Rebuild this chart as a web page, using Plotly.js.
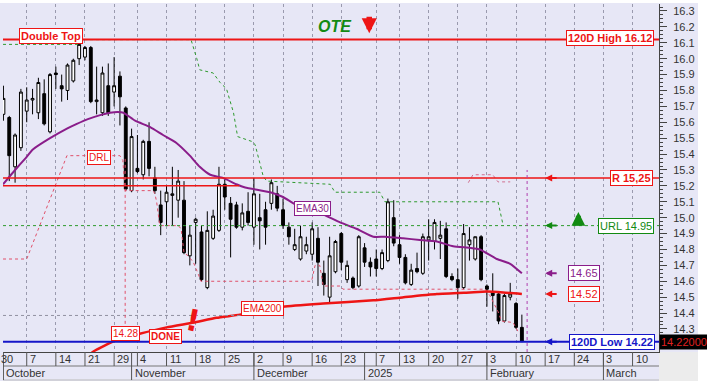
<!DOCTYPE html>
<html><head><meta charset="utf-8">
<script src="https://cdn.plot.ly/plotly-3.0.1.min.js"></script>
<style>html,body{margin:0;padding:0;background:#fff;}#chart{width:707px;height:390px;}</style>
</head><body><div id="chart"></div>
<script>
// ---------- DATA ----------
const firstDay = '2024-09-30';
const lastDay = '2025-03-14';
const holidays = ['2024-10-28','2024-12-25','2024-12-26','2024-12-31','2025-01-01','2025-01-06'];

// candles: trading days from 2024-10-01 to 2025-02-11
const candleFirst = '2024-10-01';
const open  = [15.65,15.63,15.32,15.44,15.67,15.74,15.66,15.78,15.54,15.91,15.83,15.80,15.86,16.00,16.01,16.07,15.73,15.66,15.83,15.79,15.89,15.69,15.17,15.31,15.27,15.48,15.25,15.08,15.10,15.14,15.11,15.11,14.76,14.97,14.91,14.56,14.87,14.92,15.21,15.09,15.08,14.94,15.04,14.94,15.00,15.05,15.09,15.15,15.05,14.94,14.80,14.74,14.79,14.77,14.87,14.65,14.50,14.66,14.90,14.61,14.62,14.57,14.81,14.72,14.74,14.68,14.73,15.00,14.83,14.75,14.58,14.68,14.65,14.86,14.85,14.87,14.93,14.63,14.61,14.56,14.83,14.74,14.88,14.57,14.53,14.52,14.35,14.50,14.46,14.31];
const high  = [15.83,15.64,15.53,15.81,15.82,15.81,15.88,15.87,15.91,15.95,15.90,15.97,16.00,16.12,16.08,16.08,15.95,15.95,15.97,16.01,15.92,15.70,15.56,15.52,15.49,15.60,15.32,15.17,15.20,15.32,15.30,15.23,14.95,15.00,14.95,15.04,15.05,15.32,15.24,15.13,15.10,15.09,15.16,15.25,15.15,15.10,15.24,15.20,15.12,14.97,14.93,14.95,14.88,14.97,14.94,14.73,14.88,14.86,14.91,14.73,14.63,14.89,14.84,14.75,14.80,14.80,15.12,15.11,14.89,14.77,14.71,14.78,14.90,14.99,14.99,14.98,14.97,14.65,14.68,14.96,14.94,14.88,14.89,14.58,14.65,14.53,14.52,14.59,14.47,14.39];
const low   = [15.61,15.23,15.22,15.42,15.60,15.65,15.62,15.58,15.53,15.81,15.73,15.74,15.85,15.96,15.99,15.72,15.65,15.64,15.64,15.70,15.58,15.17,15.16,15.28,15.24,15.26,15.15,14.89,14.95,14.95,15.00,14.77,14.70,14.71,14.60,14.55,14.86,14.91,15.05,14.75,14.93,14.92,14.95,14.83,14.80,14.83,15.05,15.04,14.93,14.83,14.79,14.73,14.77,14.73,14.57,14.51,14.46,14.65,14.67,14.59,14.55,14.56,14.69,14.63,14.63,14.67,14.72,14.82,14.71,14.58,14.57,14.65,14.64,14.73,14.80,14.74,14.62,14.60,14.49,14.55,14.73,14.73,14.60,14.44,14.41,14.33,14.34,14.48,14.30,14.22];
const close = [15.75,15.39,15.52,15.79,15.74,15.75,15.85,15.59,15.90,15.90,15.81,15.96,15.99,16.09,16.07,15.73,15.74,15.91,15.66,15.83,15.76,15.18,15.51,15.29,15.48,15.31,15.17,14.97,15.16,15.15,15.23,14.78,14.89,14.99,14.61,14.92,15.01,15.21,15.13,14.99,14.94,15.03,14.97,15.15,14.98,14.94,15.22,15.06,14.95,14.88,14.83,14.88,14.83,14.93,14.72,14.58,14.76,14.85,14.72,14.70,14.56,14.88,14.72,14.69,14.68,14.78,15.10,14.84,14.75,14.59,14.67,14.66,14.88,14.88,14.97,14.89,14.63,14.61,14.56,14.90,14.86,14.88,14.61,14.55,14.51,14.35,14.51,14.52,14.31,14.22];

// axis labels
const weekTicks = ['2024-09-30','2024-10-07','2024-10-14','2024-10-21','2024-10-29','2024-11-04','2024-11-11','2024-11-18','2024-11-25','2024-12-02','2024-12-09','2024-12-16','2024-12-23','2025-01-07','2025-01-13','2025-01-20','2025-01-27','2025-02-03','2025-02-10','2025-02-17','2025-02-24','2025-03-03','2025-03-10'];
const monthStarts = ['2024-10-01','2024-11-01','2024-12-02','2025-01-02','2025-02-03','2025-03-03'];
const monthNames = ['October','November','December','2025','February','March'];
const priceTicks = [14.3,14.4,14.5,14.6,14.7,14.8,14.9,15.0,15.1,15.2,15.3,15.4,15.5,15.6,15.7,15.8,15.9,16.0,16.1,16.2,16.3];

// EMA30 (trading-day position, price)
const ema30X = [0.93,3.0,4.7,6.1,9.0,11.9,13.6,15.5,17.6,19.3,20.6,21.6,23.6,26.2,28.4,30.7,33.0,34.7,36.5,38.7,41.0,42.5,46.8,49.0,51.3,55.3,58.8,61.6,64.5,66.5,69.6,72.5,75.4,78.2,81.1,82.8,85.7,88.0,90.0];
const ema30Y = [15.21,15.30,15.37,15.43,15.50,15.56,15.59,15.62,15.645,15.66,15.665,15.66,15.61,15.57,15.52,15.47,15.39,15.32,15.27,15.25,15.21,15.19,15.16,15.13,15.08,15.03,14.97,14.93,14.88,14.88,14.87,14.86,14.85,14.82,14.81,14.80,14.74,14.71,14.65];
// EMA200
const ema200X = [13.5,16.4,20.4,24.4,29.0,33.6,37.6,41.6,49.0,55.9,64.5,69.7,75.4,81.1,84.0,86.8,90.0];
const ema200Y = [14.05,14.157,14.23,14.27,14.31,14.34,14.37,14.39,14.44,14.46,14.48,14.50,14.52,14.53,14.535,14.53,14.52];
// upper stepped level (green dotted)
const urlStepX = [0.93,13.8,14.2,33.2,34.2,34.7,37.0,38.2,39.3,40.5,41.2,43.6,44.2,45.6,46.2,57.1,57.9,65.6,66.5,85.9,86.8];
const urlStepY = [16.09,16.09,16.12,16.12,16.00,15.93,15.91,15.85,15.81,15.66,15.51,15.48,15.46,15.26,15.23,15.21,15.16,15.16,15.10,15.10,14.95];
// lower stepped level (DRL, red dotted)
const drlStepX = [0.93,5.0,11.9,21.0,21.5,21.9,22.2,26.7,27.0,27.3,27.8,27.9,31.0,31.5,31.8,32.0,32.7,33.6,34.5,34.9,53.9,54.5,55.3,55.9,58.8,59.3,83.7,84.5,85.9,86.5,88.5,89.4];
const drlStepY = [14.74,14.74,15.39,15.39,15.36,15.17,15.17,15.17,15.15,15.10,14.96,14.95,14.95,14.93,14.84,14.78,14.76,14.72,14.64,14.60,14.60,14.70,14.70,14.57,14.57,14.55,14.55,14.51,14.41,14.35,14.34,14.28];
// short dotted projection near the resistance
const projX = [80.8,81.6,85.0,85.9,88.0];
const projY = [15.22,15.27,15.27,15.225,15.225];

// levels
const high120 = 16.12, resist = 15.25, resist2 = 15.20, urlLevel = 14.95, low120 = 14.22;
const ema30Last = 14.65, ema200Last = 14.52, drlTarget = 14.28, grayLevel = 14.385, lastPrice = 14.22;
const resist2EndX = 41.5, grayEndX = 41.6, drlMarkX = 21.9, drlMarkTop = 15.37, todayX = 90.9, todayTop = 15.30;

// ---------- BUILD ----------
function tradingDays(){
  const out=[]; let d=new Date(firstDay+'T00:00:00Z'); const end=new Date(lastDay+'T00:00:00Z');
  while(d<=end){const wd=d.getUTCDay(); const s=d.toISOString().slice(0,10);
    if(wd!==0&&wd!==6&&holidays.indexOf(s)<0) out.push(s);
    d=new Date(d.getTime()+86400000);}
  return out;
}
const days = tradingDays();
const ix = d => days.indexOf(d);
const c0 = ix(candleFirst);
const candleX = open.map((_,i)=>c0+i);

const FONT = 'Liberation Sans, Arial, sans-serif';
const RED='#ee1515', GREEN='#128a12', PURPLE='#8a1d8a', BLUE='#1515c8', BG='#e7e7f6';
const XR=[0.927,113.54], YR=[14.155,16.344];
const plotH = 348, plotW = 656;

const traces = [
  {type:'scatter', x:urlStepX, y:urlStepY, mode:'lines', line:{color:'#2e9a2e', width:1, dash:'dot'}, hoverinfo:'skip'},
  {type:'scatter', x:drlStepX, y:drlStepY, mode:'lines', line:{color:'#e0506a', width:1, dash:'dot'}, hoverinfo:'skip'},
  {type:'scatter', x:projX, y:projY, mode:'lines', line:{color:'#d07090', width:1, dash:'dot'}, hoverinfo:'skip'},
  {type:'candlestick', x:candleX, open:open, high:high, low:low, close:close,
    increasing:{line:{color:'#000', width:1}, fillcolor:'#ffffff'},
    decreasing:{line:{color:'#000', width:1}, fillcolor:'#000000'},
    whiskerwidth:0, hoverinfo:'skip'},
  {type:'scatter', x:ema30X, y:ema30Y, mode:'lines', line:{color:PURPLE, width:2, shape:'spline', smoothing:0.5}, hoverinfo:'skip'},
  {type:'scatter', x:ema200X, y:ema200Y, mode:'lines', line:{color:RED, width:2.5, shape:'spline', smoothing:0.5}, hoverinfo:'skip'}
];

const shapes = [];
// background strips
shapes.push({type:'rect', xref:'paper', yref:'paper', x0:-0.01, x1:1.08, y0:349/plotH, y1:1.03, fillcolor:'#fff', line:{width:0}, layer:'below'});
shapes.push({type:'rect', xref:'paper', yref:'paper', x0:(698-3)/plotW, x1:1.08, y0:-0.2, y1:1.03, fillcolor:'#fff', line:{width:0}, layer:'below'});
shapes.push({type:'rect', xref:'paper', yref:'paper', x0:-0.01, x1:1.08, y0:-0.2, y1:-29/plotH, fillcolor:'#fff', line:{width:0}, layer:'below'});
shapes.push({type:'rect', xref:'paper', yref:'paper', x0:1.0, x1:(698-3)/plotW, y0:-29/plotH, y1:0, fillcolor:'#ececec', line:{width:0}, layer:'below'});
// date row separators
shapes.push({type:'line', xref:'paper', yref:'paper', x0:0, x1:1, y0:-14/plotH, y1:-14/plotH, line:{color:'#777', width:1}});
shapes.push({type:'line', xref:'paper', yref:'paper', x0:0, x1:1, y0:-28/plotH, y1:-28/plotH, line:{color:'#bbb', width:1}});
weekTicks.forEach(d=>{const x=ix(d); shapes.push({type:'line', xref:'x', yref:'paper', x0:x, x1:x, y0:0, y1:-14/plotH, line:{color:'#555', width:1}});});
monthStarts.forEach(d=>{const x=ix(d); shapes.push({type:'line', xref:'x', yref:'paper', x0:x, x1:x, y0:0, y1:-28/plotH, line:{color:'#555', width:1}});});
// horizontal levels
shapes.push({type:'line', xref:'paper', yref:'y', x0:0, x1:1, y0:high120, y1:high120, line:{color:RED, width:2}});
shapes.push({type:'line', xref:'paper', yref:'y', x0:0, x1:1, y0:resist, y1:resist, line:{color:RED, width:1.5}});
shapes.push({type:'line', xref:'x', yref:'y', x0:XR[0], x1:resist2EndX, y0:resist2, y1:resist2, line:{color:RED, width:1.5}});
shapes.push({type:'line', xref:'paper', yref:'y', x0:0, x1:1, y0:urlLevel, y1:urlLevel, line:{color:'#2e9a2e', width:1, dash:'dot'}});
shapes.push({type:'line', xref:'x', yref:'y', x0:XR[0], x1:grayEndX, y0:grayLevel, y1:grayLevel, line:{color:'#9090a0', width:1, dash:'dot'}});
shapes.push({type:'line', xref:'paper', yref:'y', x0:0, x1:1, y0:low120, y1:low120, line:{color:BLUE, width:2}});
shapes.push({type:'line', xref:'x', yref:'y', x0:drlMarkX, x1:drlMarkX, y0:drlMarkTop, y1:drlTarget, line:{color:'#e0506a', width:1, dash:'dot'}});
shapes.push({type:'line', xref:'x', yref:'paper', x0:todayX, x1:todayX, y0:0, y1:(todayTop-YR[0])/(YR[1]-YR[0]), line:{color:'#b040b0', width:1, dash:'dot'}});

const ann = [];
const toPaperX = x => (x-XR[0])/(XR[1]-XR[0]);
weekTicks.forEach(d=>{const x=ix(d); const lab=String(parseInt(d.slice(8),10));
  const inR = x>=XR[0];
  ann.push({x: inR? x : toPaperX(x), xref: inR?'x':'paper', xanchor:'left', xshift:1, y:-7/plotH, yref:'paper', yanchor:'middle', text:lab, showarrow:false, font:{family:FONT,size:11,color:'#333'}});});
monthStarts.forEach((d,i)=>{ann.push({x:ix(d), xref:'x', xanchor:'left', xshift:1, y:-21/plotH, yref:'paper', yanchor:'middle', text:monthNames[i], showarrow:false, font:{family:FONT,size:11,color:'#333'}});});

function box(text,x,y,color,size,extra){return Object.assign({x:x,y:y,xref:'x',yref:'y',text:text,showarrow:false,font:{family:FONT,size:size,color:color},bgcolor:'#ffffff',bordercolor:color,borderwidth:1,borderpad:1,xanchor:'center',yanchor:'middle'},extra||{});}
ann.push(box('<b>Double Top</b>', 9.17, 16.143, RED, 11));
ann.push(box('<b>120D High '+high120.toFixed(2)+'</b>', 105.05, 16.13, RED, 11));
ann.push(box('<b>R '+resist.toFixed(2).replace('.',',')+'</b>', 108.9, resist, RED, 11));
ann.push(box('URL '+urlLevel.toFixed(2), 107.8, urlLevel, GREEN, 11));
ann.push(box(ema30Last.toFixed(2), 100.6, ema30Last, PURPLE, 11));
ann.push(box(ema200Last.toFixed(2), 100.6, ema200Last, RED, 11));
ann.push(box('<b>120D Low '+low120.toFixed(2)+'</b>', 105.5, low120, BLUE, 11));
ann.push(box('DRL', 17.4, 15.379, RED, 10));
ann.push(box(drlTarget.toFixed(2), 21.9, 14.269, RED, 10));
ann.push(box('<b>DONE</b>', 28.9, 14.25, RED, 10));
ann.push(box('EMA200', 45.4, 14.429, RED, 10));
ann.push(box('EMA30', 54.06, 15.058, PURPLE, 10));
ann.push({x:57.9, y:16.2, xref:'x', yref:'y', text:'<b><i>OTE</i></b>', showarrow:false, font:{family:FONT,size:16,color:GREEN}});
ann.push({x:33.6, y:14.352, xref:'x', yref:'y', text:'<b>!</b>', showarrow:false, textangle:12, font:{family:'DejaVu Sans, sans-serif',size:30,color:RED}});
// price tag
ann.push({x:(709-3)/plotW, xref:'paper', xanchor:'right', y:lastPrice, yref:'y', yanchor:'middle', text:lastPrice.toFixed(5), showarrow:false, bgcolor:'#000', font:{family:FONT,size:11,color:'#e02020'}, borderpad:1});
// arrows
function larrow(y,color){return {x:94.0, y:y, xref:'x', yref:'y', ax:13, ay:0, text:'', showarrow:true, arrowhead:2, arrowsize:0.7, arrowwidth:2, arrowcolor:color};}
ann.push(larrow(resist, RED)); ann.push(larrow(urlLevel, GREEN)); ann.push(larrow(ema30Last, PURPLE)); ann.push(larrow(ema200Last, RED)); ann.push(larrow(low120, BLUE));
ann.push({x:99.7, y:15.035, xref:'x', yref:'y', ax:0, ay:15, text:'', showarrow:true, arrowhead:2, arrowsize:0.55, arrowwidth:5, arrowcolor:GREEN});
ann.push({x:63.8, y:16.16, xref:'x', yref:'y', ax:0, ay:-18, text:'', showarrow:true, arrowhead:2, arrowsize:0.55, arrowwidth:5.5, arrowcolor:RED});

const layout = {
  width:707, height:390, margin:{l:3, r:48, t:4, b:38, pad:0},
  paper_bgcolor:BG, plot_bgcolor:BG, showlegend:false,
  font:{family:FONT, size:11, color:'#333'},
  xaxis:{type:'linear', range:XR, showticklabels:false, ticks:'', tickmode:'array', tickvals:weekTicks.map(ix),
    showgrid:true, gridcolor:'#9a9aae', griddash:'dot', gridwidth:1, showline:true, linecolor:'#444', linewidth:1,
    zeroline:false, rangeslider:{visible:false}, fixedrange:true},
  yaxis:{side:'right', range:YR, tickmode:'array', tickvals:priceTicks, ticktext:priceTicks.map(v=>v.toFixed(1)),
    ticks:'outside', ticklen:7, tickwidth:1, tickcolor:'#444',
    minor:{tickmode:'linear', tick0:14, dtick:0.025, ticks:'outside', ticklen:3, tickcolor:'#444', showgrid:false},
    showgrid:false, zeroline:false, showline:true, linecolor:'#444', linewidth:1, ticklabelstandoff:4,
    tickfont:{family:FONT, size:11, color:'#333'}, fixedrange:true},
  shapes:shapes, annotations:ann
};
Plotly.newPlot('chart', traces, layout, {displayModeBar:false, staticPlot:true});
</script></body></html>
